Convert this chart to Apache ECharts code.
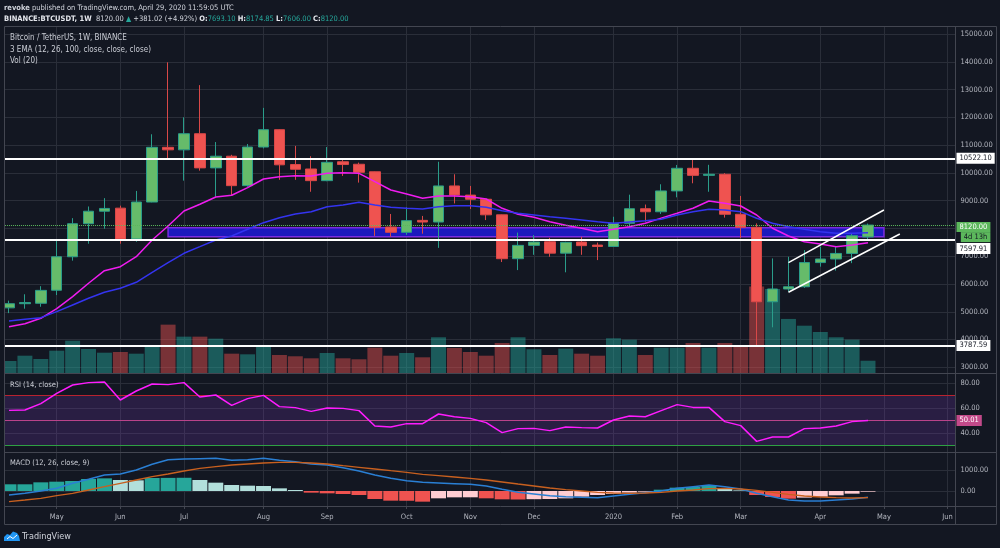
<!DOCTYPE html>
<html><head><meta charset="utf-8">
<script src="https://cdn.jsdelivr.net/npm/echarts/dist/echarts.min.js"></script>
<style>html,body{margin:0;padding:0;background:#131722;}#c{width:1000px;height:548px;}</style>
</head><body><div id="c"></div>
<script>
// ---------- data ----------
const categories = ['2019-04-15','2019-04-22','2019-04-29','2019-05-06','2019-05-13','2019-05-20','2019-05-27','2019-06-03','2019-06-10','2019-06-17','2019-06-24','2019-07-01','2019-07-08','2019-07-15','2019-07-22','2019-07-29','2019-08-05','2019-08-12','2019-08-19','2019-08-26','2019-09-02','2019-09-09','2019-09-16','2019-09-23','2019-09-30','2019-10-07','2019-10-14','2019-10-21','2019-10-28','2019-11-04','2019-11-11','2019-11-18','2019-11-25','2019-12-02','2019-12-09','2019-12-16','2019-12-23','2019-12-30','2020-01-06','2020-01-13','2020-01-20','2020-01-27','2020-02-03','2020-02-10','2020-02-17','2020-02-24','2020-03-02','2020-03-09','2020-03-16','2020-03-23','2020-03-30','2020-04-06','2020-04-13','2020-04-20','2020-04-27','2020-05-04','2020-05-11','2020-05-18','2020-05-25','2020-06-01'];
const opens  = [5140,5290,5305,5775,6980,8170,8620,8730,7620,8950,10920,10830,11410,10180,10600,9540,10930,11555,10300,10140,9720,10400,10310,10040,8050,7860,8290,8230,9530,9200,9050,8490,6910,7390,7520,7110,7510,7400,7350,8185,8710,8600,9350,10165,9910,9950,8510,8040,5360,5820,5900,6770,6900,7100,7693.10];
const highs  = [5400,5630,5920,7560,8370,8790,9090,8820,9350,11390,13980,12000,13160,11110,10650,11040,12340,11570,10970,10600,10930,10490,10370,10050,8520,8760,8450,10400,9950,9530,9060,8500,7850,7760,7660,7520,7700,7490,8420,9215,8860,9590,10285,10500,10290,9990,9170,8180,6920,6980,7220,7343,7350,7830,8174.85];
const lows   = [4950,5110,5180,5600,6840,7450,7990,7450,7520,8940,10520,9720,10080,9140,9180,9500,10880,9750,9750,9320,9700,9890,9650,7730,7700,7770,7810,7300,8900,8700,8300,6790,6500,7050,6980,6420,7050,6860,7340,8060,8240,8520,9120,9625,9320,8390,7650,3782,4440,5720,5860,6623,6480,6750,7606.00];
const closes = [5290,5330,5770,6980,8170,8620,8720,7620,8950,10920,10830,11410,10180,10600,9540,10930,11555,10290,10130,9720,10380,10300,10020,8040,7860,8280,8230,9530,9200,9050,8490,6910,7390,7510,7110,7500,7380,7350,8185,8710,8600,9350,10165,9910,9950,8510,8040,5360,5820,5900,6770,6900,7100,7738.98,8120.00];
const volumes = [213,305,248,392,565,421,357,369,340,468,843,635,635,600,340,329,456,317,295,260,352,260,243,444,305,352,277,624,439,369,305,525,624,416,317,427,340,305,607,583,317,444,444,525,444,525,486,1502,1462,942,825,716,624,583,218];
const ema12 = [4463,4571,4765,5111,5543,6025,6479,6623,6983,7584,8088,8628,8869,9132,9193,9467,9780,9863,9899,9888,9985,10007,9985,9683,9384,9240,9085,9168,9168,9143,9060,8725,8509,8401,8243,8113,8005,7883,7969,8063,8185,8370,8545,8725,8988,8905,8808,8484,8005,7728,7523,7440,7343,7404,7487];
const ema26 = [4668,4729,4787,5003,5244,5485,5701,5845,6061,6421,6767,7105,7343,7584,7728,7969,8207,8387,8520,8603,8783,8844,8941,8844,8761,8725,8700,8783,8819,8819,8761,8639,8545,8484,8423,8365,8304,8243,8185,8232,8279,8330,8484,8603,8689,8664,8603,8365,8185,8063,7969,7883,7825,7825,7847];
const rsi = [58.1,58.4,63.5,71.7,78.4,80.3,80.8,66.4,73.6,79.2,78.7,80.3,68.8,70.4,62.1,67.5,70.1,61.1,60.3,57.3,60.0,59.7,57.9,45.6,44.8,47.5,47.5,55.2,53.0,51.7,48.3,40.3,43.5,43.7,41.9,44.8,44.3,44.0,50.4,53.6,53.0,57.9,62.7,60.5,60.5,49.1,45.9,33.3,36.8,36.8,43.5,44.0,45.6,49.1,50.01];
const macdLine = [-190,-111,0,127,365,556,762,810,1000,1270,1492,1524,1540,1556,1460,1492,1556,1460,1397,1286,1238,1111,952,762,603,492,413,381,349,317,238,79,-63,-143,-222,-270,-302,-317,-238,-159,-79,0,127,206,286,206,95,-111,-270,-429,-476,-476,-429,-381,-302];
const signalLine = [-508,-429,-349,-222,-111,48,206,365,524,683,810,952,1079,1159,1238,1286,1333,1365,1365,1333,1286,1206,1127,1048,968,889,794,730,667,603,524,429,333,238,143,63,0,-63,-95,-111,-95,-63,0,48,111,127,95,32,-63,-159,-238,-286,-317,-333,-317];
const macdHist = [319,319,413,444,476,571,603,524,508,619,625,630,524,397,286,254,238,127,48,-79,-111,-143,-190,-381,-460,-465,-508,-349,-302,-300,-349,-397,-405,-390,-381,-349,-270,-190,-143,-79,-32,63,159,190,254,127,30,-190,-286,-365,-317,-270,-206,-127,-32];
const monthLabels = {'2019-05-06':'May','2019-06-03':'Jun','2019-07-01':'Jul','2019-08-05':'Aug','2019-09-02':'Sep','2019-10-07':'Oct','2019-11-04':'Nov','2019-12-02':'Dec','2020-01-06':'2020','2020-02-03':'Feb','2020-03-02':'Mar','2020-04-06':'Apr','2020-05-04':'May','2020-06-01':'Jun'};
const priceLevels = [10522.10, 7597.91, 3787.59];
const channelUpper = [['2020-03-23', 6767], ['2020-05-04', 8664]];
const channelLower = [['2020-03-23', 5701], ['2020-05-11', 7800]];
const zone = [['2019-06-24', 8027], ['2020-05-04', 7703]];
const rsiLevels = {upper: 70, lower: 30};
const countdown = '4d 13h';

// ---------- fonts ----------
function detectFont(){
  const ctx=document.createElement('canvas').getContext('2d');
  const s='15000.00 TradingView May';
  const w=f=>{ctx.font='40px '+f;return ctx.measureText(s).width;};
  const m=w('monospace');
  const list=['Liberation Sans Narrow','Arial Narrow','DejaVu Sans Condensed','Roboto Condensed','Liberation Sans'];
  for(const f of list){
    const a=w('"'+f+'",monospace'), b=w('"'+f+'",serif');
    if(Math.abs(a-b)<0.5 && Math.abs(a-m)>0.5) return f;
  }
  return 'sans-serif';
}
const FF = detectFont();
const S = (function(){const ctx=document.createElement('canvas').getContext('2d');ctx.font='10px "'+FF+'"';const w=ctx.measureText('15000.00').width;return Math.max(7.5,Math.min(9.5,10*31/w));})();
const AX = '#b2b5be', GRID='#2a2e39', BORDER='#434651', BG='#131722';

const last = closes.length-1;
const chg = closes[last]-closes[last-1];
const pct = chg/closes[last-1]*100;

const chart = echarts.init(document.getElementById('c'), null, {renderer:'canvas'});
const axisLabelBase = {color:AX, fontSize:S, fontFamily:FF};
const GL=1.05, GR=44.5;
const hiddenX = i => ({type:'category', gridIndex:i, data:categories, boundaryGap:true, show:false});
const HF = S, LF = S+0.5;

const option = {
  backgroundColor: BG,
  animation:false,
  grid:[
    {left:GL,right:GR,top:34,height:333.3},
    {left:GL,right:GR,top:27,height:346.3},
    {left:GL,right:GR,top:383,height:62.5},
    {left:GL,right:GR,top:449,height:63},
    {left:GL,right:GR,top:27,height:480}
  ],
  xAxis:[hiddenX(0),hiddenX(1),hiddenX(2),hiddenX(3),
    {type:'category', gridIndex:4, data:categories, boundaryGap:true,
     axisLine:{show:false},
     axisTick:{show:true, alignWithLabel:true, length:2, interval:(i,v)=>!!monthLabels[v], lineStyle:{color:BORDER}},
     axisLabel:Object.assign({}, axisLabelBase, {interval:(i,v)=>!!monthLabels[v], formatter:v=>monthLabels[v]||'', margin:6}),
     splitLine:{show:false}}
  ],
  yAxis:[
    {type:'value', gridIndex:0, position:'right', min:3000, max:15000, interval:1000,
     axisLine:{show:false}, axisTick:{show:false},
     axisLabel:Object.assign({}, axisLabelBase, {formatter:v=>v.toFixed(2), margin:5}),
     splitLine:{lineStyle:{color:GRID}}},
    {type:'value', gridIndex:1, min:0, max:6000, show:false, splitLine:{show:false}},
    {type:'value', gridIndex:2, position:'right', min:30, max:80, interval:10,
     axisLine:{show:false}, axisTick:{show:false},
     axisLabel:Object.assign({}, axisLabelBase, {formatter:v=>(v===40||v===60||v===80)?v.toFixed(2):'', margin:5}),
     splitLine:{lineStyle:{color:GRID}}},
    {type:'value', gridIndex:3, position:'right', min:-1000, max:2000, interval:1000,
     axisLine:{show:false}, axisTick:{show:false},
     axisLabel:Object.assign({}, axisLabelBase, {formatter:v=>(v===0||v===1000)?v.toFixed(2):'', margin:5}),
     splitLine:{show:false}},
    {type:'value', gridIndex:4, min:0, max:1, show:false, splitLine:{show:false}}
  ],
  series:[
    {name:'monthGrid', type:'line', xAxisIndex:4, yAxisIndex:4, data:[], z:0,
     markLine:{z:0, silent:true, symbol:'none', animation:false, label:{show:false},
       lineStyle:{color:GRID, width:1, type:'solid'},
       data:Object.keys(monthLabels).map(d=>({xAxis:d}))}},
    {name:'Vol', type:'bar', xAxisIndex:1, yAxisIndex:1, data:volumes, barCategoryGap:'6%', z:1,
     itemStyle:{color:p=> closes[p.dataIndex]>=opens[p.dataIndex] ? 'rgba(38,166,154,0.48)' : 'rgba(239,83,80,0.46)'}},
    {name:'BTCUSDT', type:'candlestick', xAxisIndex:0, yAxisIndex:0, barWidth:11, z:2,
     data:opens.map((o,i)=>[o, closes[i], lows[i], highs[i]]),
     itemStyle:{color:'#66bb6a', color0:'#ef5350', borderColor:'#2a9d8a', borderColor0:'#d84848', borderWidth:1},
     markArea:{z:1, silent:true, animation:false,
       itemStyle:{color:'#1c19bd', borderColor:'#7b2be0', borderWidth:1.5},
       data:[[{xAxis:zone[0][0], yAxis:zone[0][1]},{xAxis:zone[1][0], yAxis:zone[1][1]}]]},
     markLine:{z:6, silent:true, symbol:'none', animation:false,
       lineStyle:{color:'#ffffff', width:2, type:'solid'},
       label:{show:true, position:'end', distance:1, formatter:p=>p.value.toFixed(2),
         backgroundColor:'#ffffff', color:'#131722', padding:[2,3,1,3], fontSize:S, fontFamily:FF},
       data:[
         {yAxis:priceLevels[0]},
         {yAxis:priceLevels[1], label:{offset:[0,9]}},
         {yAxis:priceLevels[2]},
         {yAxis:closes[last], lineStyle:{color:'#5cb85c', width:1, type:'dotted'},
          label:{formatter:'{p|'+closes[last].toFixed(2)+'}\n{t|'+countdown+'}', backgroundColor:'transparent', padding:0, offset:[0,7],
            rich:{p:{backgroundColor:'#5cb85c', color:'#ffffff', padding:[1,3], lineHeight:10, fontSize:S, fontFamily:FF},
                  t:{backgroundColor:'#5cb85c', color:'#131722', padding:[1,3], lineHeight:10, fontSize:S, fontFamily:FF, align:'right'}}}},
         [{coord:channelUpper[0], lineStyle:{width:1.5}, label:{show:false}},{coord:channelUpper[1]}],
         [{coord:channelLower[0], lineStyle:{width:1.5}, label:{show:false}},{coord:channelLower[1]}]
       ]}},
    {name:'EMA12', type:'line', xAxisIndex:0, yAxisIndex:0, data:ema12, showSymbol:false, z:3,
     lineStyle:{color:'#f01cf0', width:1.5}},
    {name:'EMA26', type:'line', xAxisIndex:0, yAxisIndex:0, data:ema26, showSymbol:false, z:3,
     lineStyle:{color:'#3434f0', width:1.5}},
    {name:'RSI', type:'line', xAxisIndex:2, yAxisIndex:2, data:rsi, showSymbol:false, z:3, clip:false,
     lineStyle:{color:'#ff1cff', width:1.5},
     markArea:{z:1, silent:true, animation:false, itemStyle:{color:'rgba(130,60,200,0.2)'},
       data:[[{yAxis:rsiLevels.upper},{yAxis:rsiLevels.lower}]]},
     markLine:{z:2, silent:true, symbol:'none', animation:false, label:{show:false},
       data:[
         {yAxis:rsiLevels.upper, lineStyle:{color:'#b8232f', width:1, type:'solid'}},
         {yAxis:rsiLevels.lower, lineStyle:{color:'#2ea043', width:1, type:'solid'}},
         {yAxis:rsi[last], lineStyle:{color:'#b9438a', width:1, type:'solid'},
          label:{show:true, position:'end', distance:1, formatter:p=>p.value.toFixed(2), backgroundColor:'#c24a8a', color:'#ffffff', padding:[2,3,1,3], fontSize:S, fontFamily:FF}}
       ]}},
    {name:'Hist', type:'bar', xAxisIndex:3, yAxisIndex:3, data:macdHist, barCategoryGap:'6%', z:2,
     itemStyle:{color:p=>{const i=p.dataIndex, v=macdHist[i], pv=i>0?macdHist[i-1]:v;
        return v>=0 ? (v>=pv?'#26a69a':'#b2dfdb') : (v<pv?'#ef5350':'#ffcdd2');}},
     markLine:{z:0, silent:true, symbol:'none', animation:false, label:{show:false},
       lineStyle:{color:GRID, width:1, type:'solid'}, data:[{yAxis:0},{yAxis:1000}]}},
    {name:'MACD', type:'line', xAxisIndex:3, yAxisIndex:3, data:macdLine, showSymbol:false, z:3,
     lineStyle:{color:'#2a7fd4', width:1.5}},
    {name:'Signal', type:'line', xAxisIndex:3, yAxisIndex:3, data:signalLine, showSymbol:false, z:3,
     lineStyle:{color:'#c8601f', width:1.3}}
  ],
  graphic:[
    {type:'rect', shape:{x:0,y:27,width:4.5,height:498}, style:{fill:BG}, z:90, silent:true},
    {type:'line', shape:{x1:4.5,y1:26.5,x2:996.5,y2:26.5}, style:{stroke:BORDER,lineWidth:1}, z:100, silent:true},
    {type:'line', shape:{x1:4.5,y1:524.5,x2:996.5,y2:524.5}, style:{stroke:BORDER,lineWidth:1}, z:100, silent:true},
    {type:'line', shape:{x1:4.5,y1:26.5,x2:4.5,y2:524.5}, style:{stroke:BORDER,lineWidth:1}, z:100, silent:true},
    {type:'line', shape:{x1:996.5,y1:26.5,x2:996.5,y2:524.5}, style:{stroke:BORDER,lineWidth:1}, z:100, silent:true},
    {type:'line', shape:{x1:955.5,y1:26.5,x2:955.5,y2:524.5}, style:{stroke:BORDER,lineWidth:1}, z:100, silent:true},
    {type:'line', shape:{x1:4.5,y1:373.5,x2:996.5,y2:373.5}, style:{stroke:BORDER,lineWidth:1}, z:100, silent:true},
    {type:'line', shape:{x1:4.5,y1:452.5,x2:996.5,y2:452.5}, style:{stroke:BORDER,lineWidth:1}, z:100, silent:true},
    {type:'line', shape:{x1:4.5,y1:506.5,x2:996.5,y2:506.5}, style:{stroke:BORDER,lineWidth:1}, z:100, silent:true},
    {type:'text', x:4, y:8, z:100, silent:true, style:{
      text:'{b|revoke} published on TradingView.com, April 29, 2020 11:59:05 UTC',
      fill:'#d1d4dc', font:HF+'px "'+FF+'"', verticalAlign:'middle',
      rich:{b:{fontWeight:'bold', fill:'#d1d4dc', fontSize:HF, fontFamily:FF}}}},
    {type:'text', x:4, y:19, z:100, silent:true, style:{
      text:'{b|BINANCE:BTCUSDT, 1W}  '+closes[last].toFixed(2)+' {g|\u25B2} +'+chg.toFixed(2)+' (+'+pct.toFixed(2)+'%) {b|O:}{g|'+opens[last].toFixed(2)+'} {b|H:}{g|'+highs[last].toFixed(2)+'} {b|L:}{g|'+lows[last].toFixed(2)+'} {b|C:}{g|'+closes[last].toFixed(2)+'}',
      fill:'#d1d4dc', font:HF+'px "'+FF+'"', verticalAlign:'middle',
      rich:{b:{fontWeight:'bold', fill:'#e6e8ee', fontSize:HF, fontFamily:FF}, g:{fill:'#26a69a', fontSize:HF, fontFamily:FF}}}},
    {type:'text', x:10, y:38, z:100, silent:true, style:{text:'Bitcoin / TetherUS, 1W, BINANCE', fill:'#c9ccd4', font:LF+'px "'+FF+'"', verticalAlign:'middle'}},
    {type:'text', x:10, y:49.5, z:100, silent:true, style:{text:'3 EMA (12, 26, 100, close, close, close)', fill:'#c9ccd4', font:LF+'px "'+FF+'"', verticalAlign:'middle'}},
    {type:'text', x:10, y:61, z:100, silent:true, style:{text:'Vol (20)', fill:'#c9ccd4', font:LF+'px "'+FF+'"', verticalAlign:'middle'}},
    {type:'text', x:10, y:385, z:100, silent:true, style:{text:'RSI (14, close)', fill:'#c9ccd4', font:S+'px "'+FF+'"', verticalAlign:'middle'}},
    {type:'text', x:10, y:463.5, z:100, silent:true, style:{text:'MACD (12, 26, close, 9)', fill:'#c9ccd4', font:S+'px "'+FF+'"', verticalAlign:'middle'}},
    {type:'polygon', z:100, silent:true, shape:{points:[[4,541],[4,537],[7,534],[10,535],[13,531.5],[17,533],[19,536],[20,541]]}, style:{fill:'#2196f3'}},
    {type:'polyline', z:101, silent:true, shape:{points:[[7,539],[10,536.5],[13,538.5],[17,535]]}, style:{stroke:'#ffffff', lineWidth:1, fill:null}},
    {type:'text', x:22, y:536.5, z:100, silent:true, style:{text:'TradingView', fill:'#d1d4dc', font:(S+1.5)+'px "'+FF+'"', verticalAlign:'middle'}}
  ]
};
chart.setOption(option);
</script></body></html>
